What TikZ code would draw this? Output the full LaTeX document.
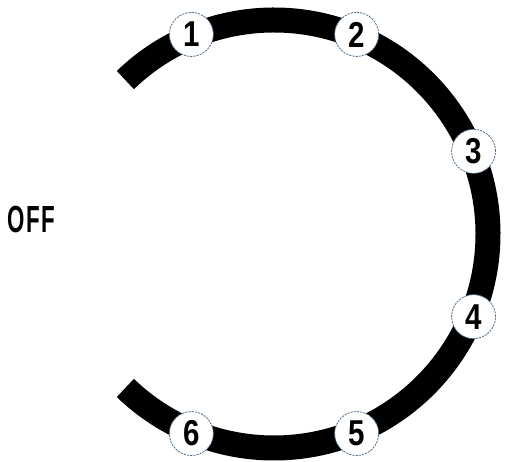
\documentclass[tikz,border=0pt]{standalone}
\usepackage{fontspec}
\setmainfont{Liberation Sans}
\usetikzlibrary{calc}
\definecolor{ringedge}{RGB}{80,110,140}
\newcommand{\posdigit}[1]{\scalebox{0.82}[1]{#1}}
\begin{document}
\begin{tikzpicture}[x=1pt,y=1pt,
  posmark/.style={circle,draw=ringedge,line width=0.8pt,dash pattern=on 2.2pt off 1pt,fill=white,minimum size=44pt,inner sep=0pt,font=\fontsize{36}{36}\selectfont\bfseries},
  band/.style={line width=25pt,black}]
\useasboundingbox (0,0) rectangle (505,462);
\coordinate (c) at (274,228);
\draw[band] (c) ++(134:214) arc[start angle=134,end angle=-134,radius=214];
\node[posmark] (p1) at ($(c)+(112.5:216)$) {\posdigit{1}};
\node[posmark] (p2) at ($(c)+(67.5:216)$) {\posdigit{2}};
\node[posmark] (p3) at ($(c)+(22.5:216)$) {\posdigit{3}};
\node[posmark] (p4) at ($(c)+(-22.5:216)$) {\posdigit{4}};
\node[posmark] (p5) at ($(c)+(-67.5:216)$) {\posdigit{5}};
\node[posmark] (p6) at ($(c)+(-112.5:216)$) {\posdigit{6}};
\node[anchor=west,inner sep=0pt] (off) at (7,243) {\scalebox{0.62}[1.05]{\fontsize{36}{36}\selectfont\bfseries O\hspace{3pt}F\hspace{3pt}F}};
\end{tikzpicture}
\end{document}
